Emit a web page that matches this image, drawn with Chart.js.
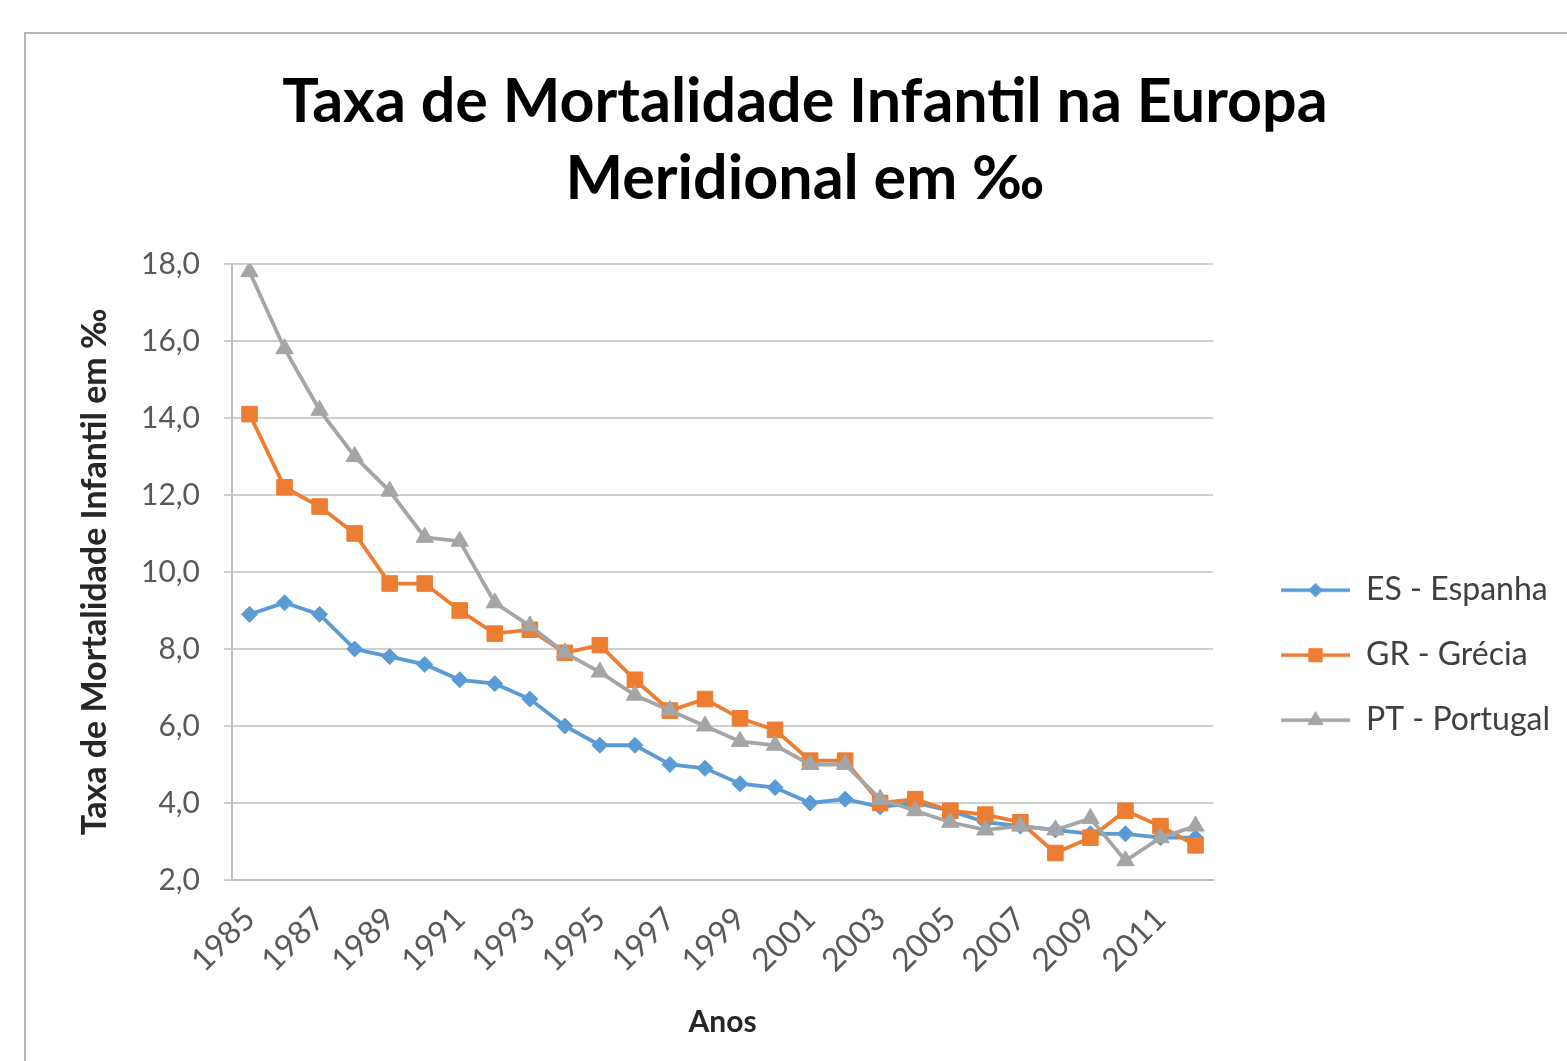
<!DOCTYPE html>
<html>
<head>
<meta charset="utf-8">
<script src="https://cdn.jsdelivr.net/npm/chart.js@4.4.1/dist/chart.umd.min.js"></script>
<style>
  html, body { margin: 0; padding: 0; background: #ffffff; overflow: hidden; }
  #frame { position: absolute; left: 24px; top: 32px; width: 1700px; height: 1200px; border: 2px solid #b8b8b8; box-sizing: border-box; }
  #wrap { position: absolute; left: 0; top: 0; width: 1567px; height: 1061px; }
</style>
</head>
<body>
<div id="frame"></div>
<div id="wrap"><canvas id="c" width="1567" height="1061"></canvas></div>
<script>
const years = ['1985','1986','1987','1988','1989','1990','1991','1992','1993','1994','1995','1996','1997','1998','1999','2000','2001','2002','2003','2004','2005','2006','2007','2008','2009','2010','2011','2012'];
const esEspanha = [8.9, 9.2, 8.9, 8.0, 7.8, 7.6, 7.2, 7.1, 6.7, 6.0, 5.5, 5.5, 5.0, 4.9, 4.5, 4.4, 4.0, 4.1, 3.9, 4.0, 3.8, 3.5, 3.4, 3.3, 3.2, 3.2, 3.1, 3.1];
const grGrecia = [14.1, 12.2, 11.7, 11.0, 9.7, 9.7, 9.0, 8.4, 8.5, 7.9, 8.1, 7.2, 6.4, 6.7, 6.2, 5.9, 5.1, 5.1, 4.0, 4.1, 3.8, 3.7, 3.5, 2.7, 3.1, 3.8, 3.4, 2.9];
const ptPortugal = [17.8, 15.8, 14.2, 13.0, 12.1, 10.9, 10.8, 9.2, 8.6, 7.9, 7.4, 6.8, 6.4, 6.0, 5.6, 5.5, 5.0, 5.0, 4.1, 3.8, 3.5, 3.3, 3.4, 3.3, 3.6, 2.5, 3.1, 3.4];
const seriesNames = ['ES - Espanha', 'GR - Grécia', 'PT - Portugal'];
const titleLines = ['Taxa de Mortalidade Infantil na Europa', 'Meridional em ‰'];
const yTitle = 'Taxa de Mortalidade Infantil em ‰';
const xTitle = 'Anos';
const yMin = 2, yMax = 18, yStep = 2;

const colors = ['#5B9BD5', '#ED7D31', '#A5A5A5'];
const styles = ['rectRot', 'rect', 'triangle'];
const radii = [8, 11, 10];

const ICON_W = 104;
function makeIcon(i) {
  const cv = document.createElement('canvas');
  cv.width = ICON_W; cv.height = 26;
  const ctx = cv.getContext('2d');
  ctx.strokeStyle = colors[i];
  ctx.lineWidth = 3.5;
  ctx.beginPath();
  ctx.moveTo(35, 13);
  ctx.lineTo(ICON_W, 13);
  ctx.stroke();
  ctx.fillStyle = colors[i];
  ctx.strokeStyle = colors[i];
  ctx.lineWidth = 1;
  Chart.helpers.drawPoint(ctx, {pointStyle: styles[i], radius: radii[i] * 0.85, rotation: 0, borderWidth: 1}, (35 + ICON_W) / 2, 13);
  ctx.fill();
  return cv;
}
const icons = [0, 1, 2].map(makeIcon);

const seriesData = [esEspanha, grGrecia, ptPortugal];
const datasets = seriesData.map((d, i) => ({
  label: seriesNames[i],
  data: d,
  borderColor: colors[i],
  backgroundColor: colors[i],
  borderWidth: 3.8,
  pointStyle: styles[i],
  pointRadius: radii[i],
  pointHoverRadius: radii[i],
  pointBackgroundColor: colors[i],
  pointBorderColor: colors[i],
  pointBorderWidth: 1,
  tension: 0,
  order: 2 - i
}));

const FONT = 'Lato, "Open Sans", sans-serif';

const chart = new Chart(document.getElementById('c'), {
  type: 'line',
  data: { labels: years, datasets: datasets },
  options: {
    responsive: false,
    animation: false,
    layout: { padding: { left: 50, right: 7, top: 0, bottom: 0 } },
    plugins: {
      tooltip: { enabled: false },
      title: {
        display: true,
        text: titleLines,
        color: '#000000',
        font: { family: FONT, size: 61, weight: 'bold', lineHeight: 1.262 },
        padding: { top: 64, bottom: 46 }
      },
      legend: {
        position: 'right',
        align: 'center',
        fullSize: false,
        title: { display: true, text: '', font: { size: 12 }, padding: { top: 152, bottom: 0 } },
        labels: {
          font: { family: FONT, size: 32 },
          color: '#404040',
          usePointStyle: true,
          pointStyleWidth: ICON_W,
          boxHeight: 32,
          padding: 33,
          generateLabels: (ch) => ch.data.datasets.map((ds, i) => ({
            text: ds.label,
            fillStyle: colors[i],
            strokeStyle: colors[i],
            lineWidth: 0,
            pointStyle: icons[i],
            hidden: false,
            datasetIndex: i,
            fontColor: '#404040'
          })),
          sort: (a, b) => a.datasetIndex - b.datasetIndex
        }
      }
    },
    scales: {
      x: {
        type: 'category',
        offset: true,
        grid: { display: true, drawOnChartArea: false, drawTicks: false, color: '#bfbfbf', lineWidth: 2 },
        border: { display: true, color: '#bfbfbf', width: 2 },
        ticks: {
          autoSkip: false,
          minRotation: 45,
          maxRotation: 45,
          padding: 20,
          color: '#595959',
          font: { family: FONT, size: 32 },
          callback: function(v, i) { return i % 2 === 0 ? years[i] : ''; }
        },
        title: {
          display: true,
          text: xTitle,
          color: '#262626',
          font: { family: FONT, size: 30, weight: 'bold' },
          padding: { top: 0, bottom: 21 }
        },
        afterFit: (s) => { s.height = 181; }
      },
      y: {
        min: yMin,
        max: yMax,
        grid: { color: '#d0d0d0', lineWidth: 2, tickLength: 8, drawTicks: true },
        border: { display: true, color: '#bfbfbf', width: 2 },
        ticks: {
          stepSize: yStep,
          padding: 24,
          color: '#595959',
          font: { family: FONT, size: 30 },
          callback: (v) => v.toFixed(1).replace('.', ',')
        },
        title: {
          display: true,
          text: yTitle,
          color: '#262626',
          font: { family: FONT, size: 34, weight: 'bold' },
          padding: { top: 25, bottom: 0 }
        },
        afterFit: (s) => { s.width = 182; }
      }
    }
  }
});
</script>
</body>
</html>
